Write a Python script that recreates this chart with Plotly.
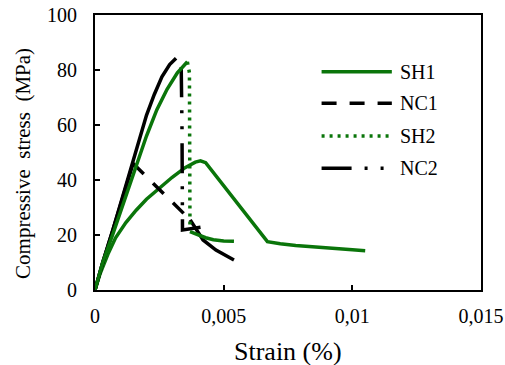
import plotly.graph_objects as go

# ---------------- data (strain %, stress MPa) ----------------
# SH1 : dense record (solid green)
sh1_strain = [0, 0.0002, 0.0005, 0.0008, 0.0012, 0.0016, 0.002, 0.0025, 0.003, 0.0035,
              0.0039, 0.0041, 0.0043, 0.0067, 0.0072, 0.0078, 0.0085, 0.009, 0.0095, 0.01, 0.0105]
sh1_stress = [0, 6, 13, 19, 24.5, 29, 33, 37, 41, 44.5,
              46.5, 47, 46.3, 17.6, 16.8, 16.2, 15.6, 15.3, 15.0, 14.6, 14.3]

# SH2 : rise, sparse drop, tail
sh2_rise_strain = [0, 0.0003, 0.0007, 0.0011, 0.0015, 0.002, 0.0024, 0.0028, 0.0032, 0.0035, 0.00359]
sh2_rise_stress = [0, 10, 20.5, 31.5, 42.5, 56, 65.5, 73, 79, 82.3, 83]
sh2_drop_strain = [0.00359, 0.00367, 0.00369]
sh2_drop_stress = [83, 79, 23.5]
sh2_tail_strain = [0.00369, 0.0040, 0.0043, 0.0046, 0.0050, 0.0054]
sh2_tail_stress = [21.2, 20.0, 19.0, 18.3, 17.8, 17.7]

# NC1 : rise, sparse drop, tail
nc1_rise_strain = [0, 0.0003, 0.0007, 0.001, 0.00148]
nc1_rise_stress = [0, 10, 22, 31.5, 46]
nc1_drop_strain = [0.00148, 0.0037]
nc1_drop_stress = [46, 25.5]
nc1_tail_strain = [0.0037, 0.0042, 0.0047, 0.0051, 0.0054]
nc1_tail_stress = [25.5, 18.2, 14.5, 12.3, 10.9]

# NC2 : rise, sparse drop
nc2_rise_strain = [0, 0.0003, 0.0007, 0.001, 0.0015, 0.002, 0.0023, 0.0026, 0.0029, 0.00315]
nc2_rise_stress = [0, 10, 22, 31.5, 47, 63.5, 71, 77.5, 82, 84.3]
nc2_drop_strain = [0.00335, 0.00338, 0.0034, 0.0041]
nc2_drop_stress = [81, 60, 21.8, 22.8]

x_tickvals = [0, 0.005, 0.01, 0.015]
x_ticktext = ["0", "0,005", "0,01", "0,015"]
y_tickvals = [0, 20, 40, 60, 80, 100]
y_ticktext = ["0", "20", "40", "60", "80", "100"]

series_names = ["SH1", "NC1", "SH2", "NC2"]

GREEN = "#0a750a"
BLACK = "#000000"
W = 3.5
DASH_NC1 = "15px,13px"
DASH_SH2 = "3px,5px"
DASH_NC2 = "30px,13px,3px,13px,3px,14px"

fig = go.Figure()

def add(x, y, color, dash="solid"):
    fig.add_trace(go.Scatter(x=x, y=y, mode="lines", showlegend=False, hoverinfo="skip",
                             line=dict(color=color, width=W, dash=dash)))

add(sh1_strain, sh1_stress, GREEN)
add(nc1_rise_strain, nc1_rise_stress, BLACK)
add(nc1_drop_strain, nc1_drop_stress, BLACK, DASH_NC1)
add(nc1_tail_strain, nc1_tail_stress, BLACK)
add(nc2_rise_strain, nc2_rise_stress, BLACK)
add(nc2_drop_strain, nc2_drop_stress, BLACK, DASH_NC2)
add(sh2_rise_strain, sh2_rise_stress, GREEN)
add(sh2_drop_strain, sh2_drop_stress, GREEN, DASH_SH2)
add(sh2_tail_strain, sh2_tail_stress, GREEN)

FONT = "Liberation Serif, Times New Roman, serif"

# manual legend (long sample lines as in the original)
leg_styles = [(GREEN, "solid"), (BLACK, DASH_NC1), (GREEN, DASH_SH2), (BLACK, DASH_NC2)]
leg_y = [0.794, 0.679, 0.56, 0.4425]
shapes = []
annotations = []
for name, (col, dash), yy in zip(series_names, leg_styles, leg_y):
    shapes.append(dict(type="line", xref="paper", yref="paper", x0=0.587, x1=0.769,
                       y0=yy, y1=yy, line=dict(color=col, width=W, dash=dash)))
    annotations.append(dict(xref="paper", yref="paper", x=0.785, y=yy, text=name,
                            showarrow=False, xanchor="left", yanchor="middle",
                            font=dict(family=FONT, size=20, color="black")))

annotations.append(dict(xref="paper", yref="paper", x=0.5, y=-0.222, text="Strain (%)",
                        showarrow=False, xanchor="center", yanchor="middle",
                        font=dict(family=FONT, size=26, color="black")))
annotations.append(dict(xref="paper", yref="paper", x=-0.188, y=0.46,
                        text="Compressive \u00a0stress \u00a0(MPa)", textangle=-90,
                        showarrow=False, xanchor="center", yanchor="middle",
                        font=dict(family=FONT, size=21, color="black")))

fig.update_layout(
    width=505, height=365,
    margin=dict(l=95, r=24, t=15, b=75, autoexpand=False),
    paper_bgcolor="white", plot_bgcolor="white",
    font=dict(family=FONT, size=20, color="black"),
    showlegend=False, hovermode=False,
    shapes=shapes, annotations=annotations,
    xaxis=dict(range=[0, 0.015], tickvals=x_tickvals, ticktext=x_ticktext,
               showgrid=False, zeroline=False, showline=True, linecolor="black",
               linewidth=2, mirror=True, ticks="inside", ticklen=5, tickwidth=2,
               tickcolor="black", tickfont=dict(size=20), automargin=False,
               ticklabelstandoff=7),
    yaxis=dict(range=[0, 100], tickvals=y_tickvals, ticktext=y_ticktext,
               showgrid=False, zeroline=False, showline=True, linecolor="black",
               linewidth=2, mirror=True, ticks="inside", ticklen=5, tickwidth=2,
               tickcolor="black", tickfont=dict(size=20), ticklabelstandoff=12,
               automargin=False),
)

fig.write_html("out.html", config={"displayModeBar": False, "staticPlot": True},
               post_script="document.body.style.margin='0';document.body.style.overflow='hidden';")
